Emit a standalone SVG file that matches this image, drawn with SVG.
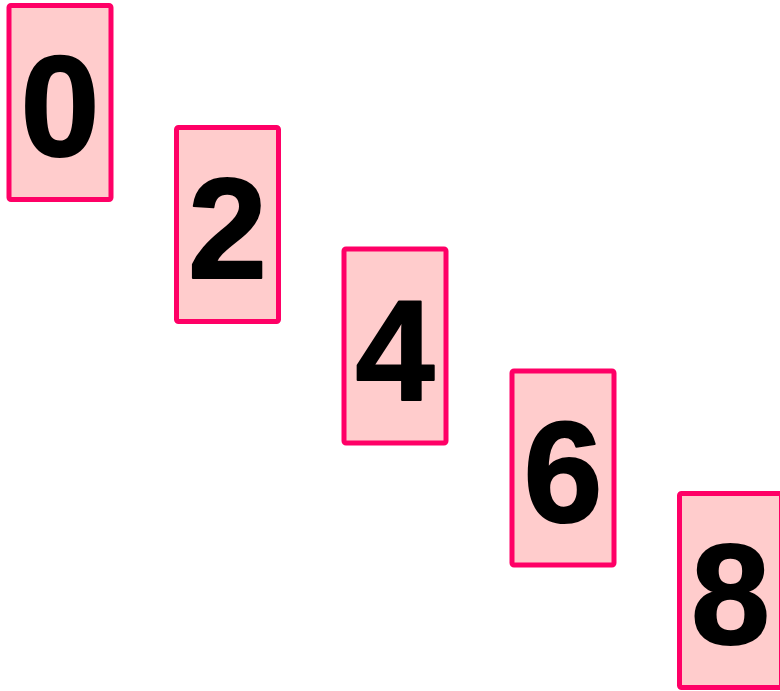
<svg xmlns="http://www.w3.org/2000/svg" width="780" height="691" viewBox="0 0 780 691">
<style>
.box{fill:#ffcccc;stroke:#ff0066;stroke-width:5}
.num{font-family:"Liberation Sans",Arial,sans-serif;font-weight:bold;font-size:142px;fill:#000;text-anchor:middle;stroke:#000;stroke-width:2;stroke-linejoin:round}
</style>
<rect width="780" height="691" fill="#ffffff"/>
<g id="n0"><rect class="box" x="9" y="5.5" width="102" height="194" rx="2"/><text class="num" x="60" y="156">0</text></g>
<g id="n2"><rect class="box" x="176.5" y="127.5" width="102" height="194" rx="2"/><text class="num" x="227.5" y="278">2</text></g>
<g id="n4"><rect class="box" x="344" y="249" width="102" height="194" rx="2"/><text class="num" x="395" y="399.5">4</text></g>
<g id="n6"><rect class="box" x="512" y="371" width="102" height="194" rx="2"/><text class="num" x="563" y="521.5">6</text></g>
<g id="n8"><rect class="box" x="679.5" y="493.5" width="102" height="194" rx="2"/><text class="num" x="730.5" y="644">8</text></g>
<g id="connectors"></g>
</svg>
